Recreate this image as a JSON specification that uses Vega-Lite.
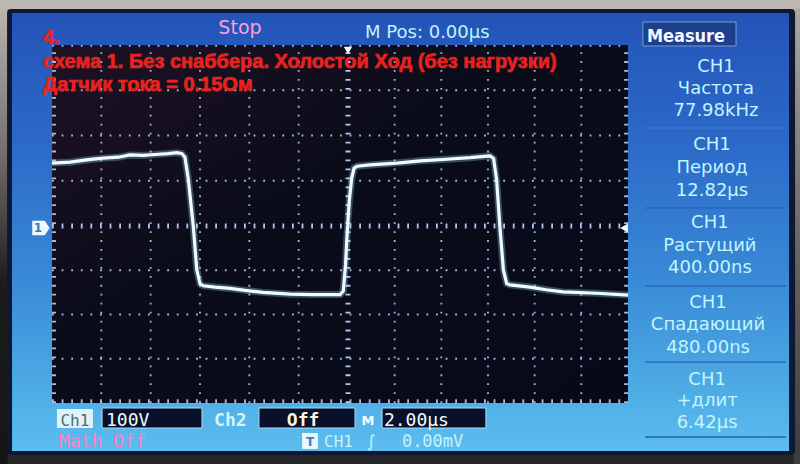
{
  "$schema": "https://vega.github.io/schema/vega-lite/v6.json",
  "width": 800,
  "height": 464,
  "autosize": "none",
  "padding": 0,
  "background": "#262628",
  "config": {"view": {"stroke": null}, "axis": {"disable": true}},
  "datasets": {
    "wave": [
      {"t": -12.0, "v": 139}, {"t": -11.27, "v": 141}, {"t": -10.6, "v": 146}, {"t": -9.93, "v": 150},
      {"t": -9.3, "v": 152}, {"t": -8.84, "v": 157}, {"t": -8.3, "v": 156}, {"t": -7.82, "v": 158},
      {"t": -7.3, "v": 160}, {"t": -6.93, "v": 162}, {"t": -6.73, "v": 160}, {"t": -6.61, "v": 152},
      {"t": -6.47, "v": 102}, {"t": -6.27, "v": -2}, {"t": -6.13, "v": -99}, {"t": -6.0, "v": -130},
      {"t": -5.87, "v": -135}, {"t": -5.39, "v": -138}, {"t": -4.78, "v": -141}, {"t": -4.1, "v": -146},
      {"t": -3.45, "v": -150}, {"t": -2.35, "v": -154}, {"t": -1.42, "v": -155}, {"t": -0.32, "v": -155},
      {"t": -0.19, "v": -147}, {"t": -0.1, "v": -88}, {"t": -0.05, "v": -32}, {"t": 0.0, "v": 13},
      {"t": 0.06, "v": 58}, {"t": 0.16, "v": 106}, {"t": 0.26, "v": 128}, {"t": 0.39, "v": 132},
      {"t": 0.94, "v": 135}, {"t": 2.1, "v": 139}, {"t": 3.09, "v": 144}, {"t": 4.07, "v": 147},
      {"t": 5.23, "v": 151}, {"t": 6.09, "v": 155}, {"t": 6.24, "v": 149}, {"t": 6.37, "v": 102},
      {"t": 6.51, "v": -2}, {"t": 6.66, "v": -99}, {"t": 6.8, "v": -130}, {"t": 6.94, "v": -133},
      {"t": 7.8, "v": -138}, {"t": 8.5, "v": -144}, {"t": 9.21, "v": -149}, {"t": 10.67, "v": -152},
      {"t": 12.0, "v": -156}
    ],
    "vgrid": [{"t": -10}, {"t": -8}, {"t": -6}, {"t": -4}, {"t": -2}, {"t": 2}, {"t": 4}, {"t": 6}, {"t": 8}, {"t": 10}],
    "hgrid": [{"v": -300}, {"v": -200}, {"v": -100}, {"v": 100}, {"v": 200}, {"v": 300}, {"v": 398}],
    "one": [{"k": 1}]
  },
  "layer": [
    {"data": {"name": "one"}, "mark": {"type": "rect", "fill": "#bfb9b3"},
     "encoding": {"x": {"datum": -14.5, "scale": {"domain": [-12, 0, 12], "range": [52, 348, 628], "nice": false, "zero": false}}, "x2": {"datum": 19.6},
                  "y": {"datum": 478, "scale": {"domain": [-400, 0, 400], "range": [403, 226, 45], "nice": false, "zero": false}}, "y2": {"datum": 515}}},
    {"data": {"name": "one"}, "mark": {"type": "rect", "fill": {"gradient": "linear", "x1": 0, "y1": 0, "x2": 0, "y2": 1, "stops": [{"offset": 0, "color": "#bab4ae"}, {"offset": 0.3, "color": "#77726e"}, {"offset": 0.6, "color": "#1c1c1d"}, {"offset": 1, "color": "#151516"}]}},
     "encoding": {"x": {"datum": -14.5}, "x2": {"datum": -13.8}, "y": {"datum": -545}, "y2": {"datum": 480}}},
    {"data": {"name": "one"}, "mark": {"type": "rect", "fill": {"gradient": "linear", "x1": 0, "y1": 0, "x2": 0, "y2": 1, "stops": [{"offset": 0, "color": "#aaa6a2"}, {"offset": 0.5, "color": "#6a6764"}, {"offset": 1, "color": "#3c3b3b"}]}},
     "encoding": {"x": {"datum": 19.1}, "x2": {"datum": 19.6}, "y": {"datum": -545}, "y2": {"datum": 480}}},
    {"data": {"name": "one"}, "mark": {"type": "rect", "fill": "#0d1834", "cornerRadius": 4},
     "encoding": {"x": {"datum": -13.82}, "x2": {"datum": 19.16}, "y": {"datum": -517.5}, "y2": {"datum": 479.6}}},
    {"data": {"name": "one"}, "mark": {"type": "rect", "fill": {"gradient": "linear", "x1": 0, "y1": 0, "x2": 0, "y2": 1, "stops": [{"offset": 0, "color": "#2453b8"}, {"offset": 0.3, "color": "#2c6ac8"}, {"offset": 0.6, "color": "#3889d6"}, {"offset": 0.88, "color": "#4faee6"}, {"offset": 1, "color": "#5dbdef"}]}},
     "encoding": {"x": {"datum": -13.62}, "x2": {"datum": 18.9}, "y": {"datum": -508.5}, "y2": {"datum": 470.7}}},
    {"data": {"name": "one"}, "mark": {"type": "rect", "fill": {"gradient": "linear", "x1": 0, "y1": 0, "x2": 1, "y2": 1, "stops": [{"offset": 0, "color": "#1f1224"}, {"offset": 0.4, "color": "#0b0c1a"}, {"offset": 1, "color": "#060a18"}]}},
     "encoding": {"x": {"datum": -12}, "x2": {"datum": 12}, "y": {"datum": -400}, "y2": {"datum": 400}}},

    {"data": {"name": "vgrid"}, "mark": {"type": "rule", "color": "#a6b8e2", "strokeWidth": 1.8, "strokeDash": [1.8, 7.15]},
     "encoding": {"x": {"field": "t", "type": "quantitative"}, "y": {"datum": -400}, "y2": {"datum": 400}}},
    {"data": {"name": "hgrid"}, "mark": {"type": "rule", "color": "#a6b8e2", "strokeWidth": 1.8, "strokeDash": [1.8, 7.8]},
     "encoding": {"y": {"field": "v", "type": "quantitative"}, "x": {"datum": -12}, "x2": {"datum": 12}}},
    {"data": {"name": "one"}, "mark": {"type": "rule", "color": "#b4c4ee", "strokeWidth": 5, "strokeDash": [1.8, 7.8]},
     "encoding": {"y": {"datum": 0}, "x": {"datum": -12}, "x2": {"datum": 12}}},
    {"data": {"name": "one"}, "mark": {"type": "rule", "color": "#b4c4ee", "strokeWidth": 5, "strokeDash": [1.8, 7.15]},
     "encoding": {"x": {"datum": 0}, "y": {"datum": -400}, "y2": {"datum": 400}}},
    {"data": {"name": "one"}, "mark": {"type": "rule", "color": "#a8badf", "strokeWidth": 4, "strokeDash": [1.8, 7.15]},
     "encoding": {"x": {"datum": -11.92}, "y": {"datum": -400}, "y2": {"datum": 400}}},
    {"data": {"name": "one"}, "mark": {"type": "rule", "color": "#a8badf", "strokeWidth": 4, "strokeDash": [1.8, 7.15]},
     "encoding": {"x": {"datum": 11.92}, "y": {"datum": -400}, "y2": {"datum": 400}}},
    {"data": {"name": "one"}, "mark": {"type": "rule", "color": "#a8badf", "strokeWidth": 4, "strokeDash": [1.8, 7.8]},
     "encoding": {"y": {"datum": -396}, "x": {"datum": -12}, "x2": {"datum": 12}}},

    {"data": {"name": "wave"}, "mark": {"type": "line", "color": "#9fe6ff", "strokeWidth": 7, "opacity": 0.3},
     "encoding": {"x": {"field": "t", "type": "quantitative"}, "y": {"field": "v", "type": "quantitative"}}},
    {"data": {"name": "wave"}, "mark": {"type": "line", "color": "#effcff", "strokeWidth": 3.2},
     "encoding": {"x": {"field": "t", "type": "quantitative"}, "y": {"field": "v", "type": "quantitative"}}},

    {"data": {"name": "one"}, "mark": {"type": "point", "filled": true, "shape": "M-1,-0.85L0.45,-0.85L1,0L0.45,0.85L-1,0.85Z", "size": 300, "color": "#f0f8ff", "opacity": 1},
     "encoding": {"x": {"datum": -12.45}, "y": {"datum": -4.5}}},
    {"data": {"name": "one"}, "mark": {"type": "text", "text": "1", "font": "DejaVu Sans", "fontSize": 12, "fontWeight": "bold", "color": "#3a74c2", "align": "center", "baseline": "middle"},
     "encoding": {"x": {"datum": -12.57}, "y": {"datum": -4.5}}},
    {"data": {"name": "one"}, "mark": {"type": "point", "filled": true, "shape": "triangle-left", "size": 80, "color": "#e6fff6", "opacity": 1},
     "encoding": {"x": {"datum": 11.83}, "y": {"datum": -4.5}}},
    {"data": {"name": "one"}, "mark": {"type": "point", "filled": true, "shape": "triangle-down", "size": 70, "color": "#f4fbff", "opacity": 1},
     "encoding": {"x": {"datum": 0}, "y": {"datum": 388}}},

    {"data": {"name": "one"}, "mark": {"type": "rect", "fill": "#1e3f8c", "stroke": "#7c9bd6", "strokeWidth": 1},
     "encoding": {"x": {"datum": 12.64}, "x2": {"datum": 16.63}, "y": {"datum": 397.8}, "y2": {"datum": 450.8}}},
    {"data": {"name": "one"}, "mark": {"type": "text", "text": "Measure", "font": "DejaVu Sans Condensed, DejaVu Sans", "fontSize": 18, "fontWeight": "bold", "color": "#f4f8ff", "align": "left", "baseline": "alphabetic"},
     "encoding": {"x": {"datum": 12.81}, "y": {"datum": 406.6}}},
    {"layer": [
      {"data": {"name": "one"}, "mark": {"type": "rule", "color": "#3a74c4", "strokeWidth": 1.5}, "encoding": {"x": {"datum": 12.73}, "x2": {"datum": 18.77}, "y": {"datum": 216.6}}},
      {"data": {"name": "one"}, "mark": {"type": "rule", "color": "#2a66b8", "strokeWidth": 1.5}, "encoding": {"x": {"datum": 12.73}, "x2": {"datum": 18.77}, "y": {"datum": 39.8}}},
      {"data": {"name": "one"}, "mark": {"type": "rule", "color": "#2a66b8", "strokeWidth": 1.5}, "encoding": {"x": {"datum": 12.73}, "x2": {"datum": 18.77}, "y": {"datum": -135.6}}},
      {"data": {"name": "one"}, "mark": {"type": "rule", "color": "#2a66b8", "strokeWidth": 1.5}, "encoding": {"x": {"datum": 12.73}, "x2": {"datum": 18.77}, "y": {"datum": -307.4}}},
      {"data": {"name": "one"}, "mark": {"type": "rule", "color": "#1f66b4", "strokeWidth": 1.5}, "encoding": {"x": {"datum": 12.73}, "x2": {"datum": 18.77}, "y": {"datum": -476.9}}}
    ]},
    {"data": {"name": "one"}, "mark": {"type": "text", "text": "CH1\nЧастота\n77.98kHz", "lineBreak": "\n", "lineHeight": 22, "font": "DejaVu Sans", "fontSize": 18, "color": "#c2f5ff", "align": "center", "baseline": "middle"},
     "encoding": {"x": {"datum": 15.77}, "y": {"datum": 352.1}}},
    {"data": {"name": "one"}, "mark": {"type": "text", "text": "CH1\nПериод\n12.82µs", "lineBreak": "\n", "lineHeight": 23, "font": "DejaVu Sans", "fontSize": 18, "color": "#c2f5ff", "align": "center", "baseline": "middle"},
     "encoding": {"x": {"datum": 15.6}, "y": {"datum": 179}}},
    {"data": {"name": "one"}, "mark": {"type": "text", "text": "CH1\nРастущий\n400.00ns", "lineBreak": "\n", "lineHeight": 22.5, "font": "DejaVu Sans", "fontSize": 18, "color": "#c2f5ff", "align": "center", "baseline": "middle"},
     "encoding": {"x": {"datum": 15.51}, "y": {"datum": 6.6}}},
    {"data": {"name": "one"}, "mark": {"type": "text", "text": "CH1\nСпадающий\n480.00ns", "lineBreak": "\n", "lineHeight": 22.5, "font": "DejaVu Sans", "fontSize": 18, "color": "#c2f5ff", "align": "center", "baseline": "middle"},
     "encoding": {"x": {"datum": 15.43}, "y": {"datum": -174}}},
    {"data": {"name": "one"}, "mark": {"type": "text", "text": "CH1\n+длит\n6.42µs", "lineBreak": "\n", "lineHeight": 21.5, "font": "DejaVu Sans", "fontSize": 18, "color": "#c2f5ff", "align": "center", "baseline": "middle"},
     "encoding": {"x": {"datum": 15.39}, "y": {"datum": -348}}},

    {"data": {"name": "one"}, "mark": {"type": "text", "text": "Stop", "font": "DejaVu Sans", "fontSize": 19, "color": "#ff9dd8", "align": "center", "baseline": "alphabetic"},
     "encoding": {"x": {"datum": -4.38}, "y": {"datum": 424.3}}},
    {"data": {"name": "one"}, "mark": {"type": "text", "text": "M Pos: 0.00µs", "font": "DejaVu Sans", "fontSize": 18, "color": "#c0f2ff", "align": "left", "baseline": "alphabetic"},
     "encoding": {"x": {"datum": 0.73}, "y": {"datum": 415.5}}},

    {"data": {"name": "one"}, "mark": {"type": "text", "text": "4.", "font": "Liberation Sans", "fontSize": 20, "fontWeight": "bold", "color": "#e8221e", "stroke": "#e8221e", "strokeWidth": 0.7, "align": "left", "baseline": "alphabetic"},
     "encoding": {"x": {"datum": -12.36}, "y": {"datum": 402.2}}},
    {"data": {"name": "one"}, "mark": {"type": "text", "text": "схема 1. Без снаббера. Холостой Ход (без нагрузки)", "font": "Liberation Sans", "fontSize": 20, "fontWeight": "bold", "color": "#e8221e", "stroke": "#e8221e", "strokeWidth": 0.7, "align": "left", "baseline": "alphabetic"},
     "encoding": {"x": {"datum": -12.36}, "y": {"datum": 349.2}}},
    {"data": {"name": "one"}, "mark": {"type": "text", "text": "Датчик тока = 0.15Ом", "font": "Liberation Sans", "fontSize": 20, "fontWeight": "bold", "color": "#e8221e", "stroke": "#e8221e", "strokeWidth": 0.7, "align": "left", "baseline": "alphabetic"},
     "encoding": {"x": {"datum": -12.36}, "y": {"datum": 298.4}}},

    {"data": {"name": "one"}, "mark": {"type": "rect", "fill": "#e2f1f5"},
     "encoding": {"x": {"datum": -11.8}, "x2": {"datum": -10.34}, "y": {"datum": -456.5}, "y2": {"datum": -413.6}}},
    {"data": {"name": "one"}, "mark": {"type": "text", "text": "Ch1", "font": "DejaVu Sans Mono", "fontSize": 16, "color": "#3f7282", "align": "center", "baseline": "alphabetic"},
     "encoding": {"x": {"datum": -11.07}, "y": {"datum": -452}}},
    {"data": {"name": "one"}, "mark": {"type": "rect", "fill": "#08102a", "stroke": "#a8dcf4", "strokeWidth": 1},
     "encoding": {"x": {"datum": -9.97}, "x2": {"datum": -5.92}, "y": {"datum": -456.5}, "y2": {"datum": -411.3}}},
    {"data": {"name": "one"}, "mark": {"type": "text", "text": "100V", "font": "DejaVu Sans Mono", "fontSize": 18, "color": "#f4fbff", "align": "left", "baseline": "alphabetic"},
     "encoding": {"x": {"datum": -9.81}, "y": {"datum": -452}}},
    {"data": {"name": "one"}, "mark": {"type": "text", "text": "Ch2", "font": "DejaVu Sans Mono", "fontSize": 18, "fontWeight": "bold", "color": "#d2f4ff", "align": "left", "baseline": "alphabetic"},
     "encoding": {"x": {"datum": -5.43}, "y": {"datum": -452}}},
    {"data": {"name": "one"}, "mark": {"type": "rect", "fill": "#08102a", "stroke": "#a8dcf4", "strokeWidth": 1},
     "encoding": {"x": {"datum": -3.61}, "x2": {"datum": 0.3}, "y": {"datum": -456.5}, "y2": {"datum": -411.3}}},
    {"data": {"name": "one"}, "mark": {"type": "text", "text": "Off", "font": "DejaVu Sans Mono", "fontSize": 18, "fontWeight": "bold", "color": "#fff6da", "align": "center", "baseline": "alphabetic"},
     "encoding": {"x": {"datum": -1.82}, "y": {"datum": -452}}},
    {"data": {"name": "one"}, "mark": {"type": "text", "text": "M", "font": "DejaVu Sans", "fontSize": 13, "fontWeight": "bold", "color": "#ffffff", "align": "center", "baseline": "alphabetic"},
     "encoding": {"x": {"datum": 0.86}, "y": {"datum": -450}}},
    {"data": {"name": "one"}, "mark": {"type": "rect", "fill": "#08102a", "stroke": "#a8dcf4", "strokeWidth": 1},
     "encoding": {"x": {"datum": 1.46}, "x2": {"datum": 5.91}, "y": {"datum": -456.5}, "y2": {"datum": -411.3}}},
    {"data": {"name": "one"}, "mark": {"type": "text", "text": "2.00µs", "font": "DejaVu Sans Mono", "fontSize": 18, "color": "#f4fbff", "align": "left", "baseline": "alphabetic"},
     "encoding": {"x": {"datum": 1.54}, "y": {"datum": -452}}},
    {"data": {"name": "one"}, "mark": {"type": "text", "text": "Math Off", "font": "DejaVu Sans Mono", "fontSize": 18, "color": "#ff7fc4", "align": "left", "baseline": "alphabetic"},
     "encoding": {"x": {"datum": -11.72}, "y": {"datum": -499.5}}},
    {"data": {"name": "one"}, "mark": {"type": "rect", "fill": "#eef7ff"},
     "encoding": {"x": {"datum": -1.86}, "x2": {"datum": -1.22}, "y": {"datum": -504}, "y2": {"datum": -467.8}}},
    {"data": {"name": "one"}, "mark": {"type": "text", "text": "T", "font": "DejaVu Sans", "fontSize": 12, "fontWeight": "bold", "color": "#3d7cc4", "align": "center", "baseline": "alphabetic"},
     "encoding": {"x": {"datum": -1.54}, "y": {"datum": -497}}},
    {"data": {"name": "one"}, "mark": {"type": "text", "text": "CH1", "font": "DejaVu Sans Mono", "fontSize": 16, "color": "#c4f3ff", "align": "left", "baseline": "alphabetic"},
     "encoding": {"x": {"datum": -0.97}, "y": {"datum": -499.5}}},
    {"data": {"name": "one"}, "mark": {"type": "text", "text": "∫", "font": "DejaVu Sans", "fontSize": 17, "color": "#c4f3ff", "align": "center", "baseline": "alphabetic"},
     "encoding": {"x": {"datum": 0.99}, "y": {"datum": -499.5}}},
    {"data": {"name": "one"}, "mark": {"type": "text", "text": "0.00mV", "font": "DejaVu Sans Mono", "fontSize": 17, "color": "#c4f3ff", "align": "left", "baseline": "alphabetic"},
     "encoding": {"x": {"datum": 2.31}, "y": {"datum": -499.5}}}
  ]
}
